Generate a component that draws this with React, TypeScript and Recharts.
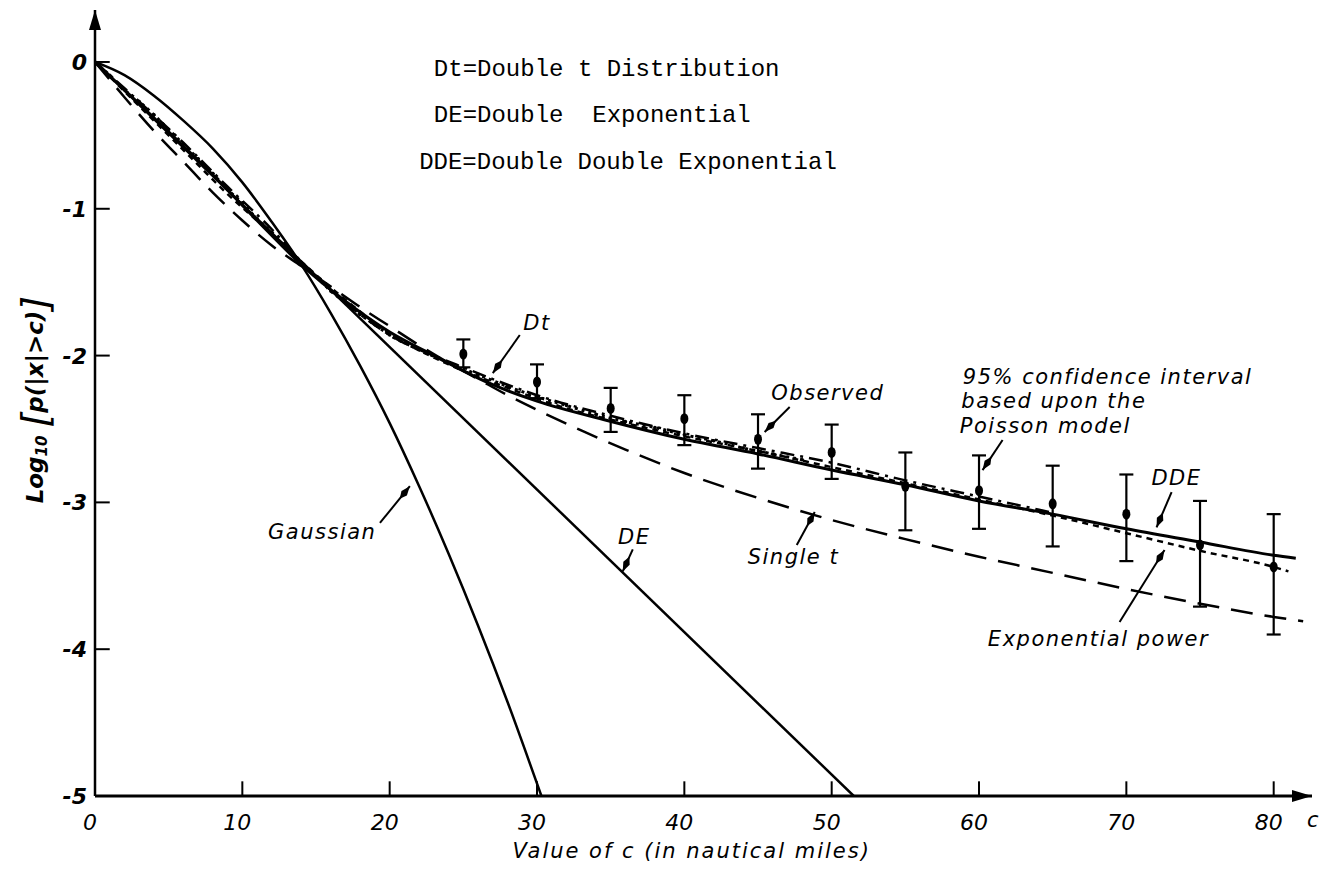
import {
  ComposedChart,
  ErrorBar,
  Line,
  ReferenceDot,
  ReferenceLine,
  Scatter,
  XAxis,
  YAxis,
} from "recharts";

// axis ranges (the axes run a bit past the last tick, up to the arrow heads)
const X_MAX = 82.6;
const Y_MIN = -5;
const Y_MAX = 0.354;
const xTicks = [0, 10, 20, 30, 40, 50, 60, 70, 80];
const yTicks = [0, -1, -2, -3, -4, -5];

// fitted curves: c (nautical miles) and log10 P(|x|>c)
const gaussianC = [0, 2, 4, 6, 8, 10, 12, 14, 16, 18, 20, 22, 24, 26, 28, 30.3];
const gaussianY = [0, -0.09, -0.23, -0.4, -0.59, -0.82, -1.09, -1.38, -1.71, -2.07, -2.46, -2.89, -3.35, -3.84, -4.36, -5];

const deC = [0, 51.5];
const deY = [0, -5];

const singleTC = [0, 2, 4, 6, 8, 10, 12, 14, 16, 18, 20, 22, 24, 26, 28, 30, 33, 36, 40, 45, 50, 55, 60, 65, 70, 75, 80, 82];
const singleTY = [0, -0.24, -0.47, -0.68, -0.89, -1.08, -1.25, -1.39, -1.53, -1.67, -1.8, -1.93, -2.05, -2.16, -2.27, -2.37, -2.51, -2.64, -2.8, -2.97, -3.12, -3.25, -3.37, -3.48, -3.59, -3.69, -3.78, -3.81];

const dtC = [0, 3, 6, 9, 12, 14, 17, 20, 24.5, 27, 30, 35, 40, 45, 50, 55, 60, 65];
const dtY = [0, -0.27, -0.55, -0.85, -1.14, -1.36, -1.64, -1.86, -2.06, -2.16, -2.27, -2.41, -2.53, -2.63, -2.73, -2.85, -2.96, -3.07];

const ddeC = [0, 4, 8, 11, 14, 17, 20, 23, 26.8, 30, 34.7, 40, 45, 50, 55, 60, 65, 70, 75, 80, 81.5];
const ddeY = [0, -0.38, -0.77, -1.08, -1.38, -1.63, -1.84, -2.0, -2.19, -2.31, -2.44, -2.57, -2.67, -2.78, -2.88, -2.99, -3.08, -3.18, -3.27, -3.36, -3.38];

const expPowerC = [0, 3, 6, 9, 12, 14, 17, 20, 24, 28, 32, 36, 40, 45, 50, 55, 60, 65, 70, 75, 80, 81];
const expPowerY = [0, -0.3, -0.6, -0.9, -1.17, -1.36, -1.62, -1.85, -2.06, -2.22, -2.36, -2.46, -2.55, -2.65, -2.76, -2.87, -2.98, -3.09, -3.21, -3.33, -3.44, -3.47];

// observed tail frequencies (the dotted wavy trace)
const observedC = [0, 1, 2, 3, 4, 5, 6, 7, 8, 9, 10, 11, 12, 13, 14, 15, 16, 17, 18, 19, 20, 22, 24, 26, 28, 30, 32, 34, 36, 38, 40, 42, 44, 46, 48];
const observedY = [0, -0.09, -0.19, -0.27, -0.36, -0.46, -0.56, -0.66, -0.76, -0.87, -0.96, -1.07, -1.16, -1.27, -1.37, -1.46, -1.56, -1.64, -1.72, -1.79, -1.86, -1.96, -2.05, -2.13, -2.21, -2.28, -2.34, -2.4, -2.45, -2.49, -2.54, -2.58, -2.63, -2.67, -2.71];

// observed points with 95% Poisson confidence intervals
const ciC = [25, 30, 35, 40, 45, 50, 55, 60, 65, 70, 75, 80];
const ciMid = [-1.99, -2.18, -2.36, -2.43, -2.57, -2.66, -2.89, -2.92, -3.01, -3.08, -3.29, -3.44];
const ciTop = [-1.89, -2.06, -2.22, -2.27, -2.4, -2.47, -2.66, -2.68, -2.75, -2.81, -2.99, -3.08];
const ciBottom = [-2.08, -2.29, -2.52, -2.61, -2.77, -2.84, -3.19, -3.18, -3.3, -3.4, -3.71, -3.9];

const pts = (cs: number[], ys: number[]) => cs.map((c, i) => ({ c, y: ys[i] }));
const ciData = ciC.map((c, i) => ({
  c,
  y: ciMid[i],
  err: [ciMid[i] - ciBottom[i], ciTop[i] - ciMid[i]],
}));

const LABEL_FONT = "'DejaVu Sans', sans-serif";
const MONO_FONT = "'Liberation Mono', 'DejaVu Sans Mono', monospace";

// annotation layout (data coordinates)
const notes = [
  { c: 30.0, y: -1.78, text: "Dt", anchor: "middle" },
  { c: 45.9, y: -2.255, text: "Observed", anchor: "start" },
  { c: 58.9, y: -2.146, text: "95% confidence interval", anchor: "start" },
  { c: 58.8, y: -2.309, text: "based upon the", anchor: "start" },
  { c: 58.7, y: -2.48, text: "Poisson model", anchor: "start" },
  { c: 71.7, y: -2.834, text: "DDE", anchor: "start" },
  { c: 60.6, y: -3.93, text: "Exponential power", anchor: "start" },
  { c: 44.3, y: -3.372, text: "Single t", anchor: "start" },
  { c: 35.5, y: -3.236, text: "DE", anchor: "start" },
  { c: 19.1, y: -3.2, text: "Gaussian", anchor: "end" },
];

const pointers = [
  { from: [28.83, -1.86], to: [27.0, -2.12] },
  { from: [47.15, -2.35], to: [45.45, -2.52] },
  { from: [61.6, -2.575], to: [60.24, -2.78] },
  { from: [73.07, -2.93], to: [72.05, -3.17] },
  { from: [69.54, -3.815], to: [72.59, -3.324] },
  { from: [47.63, -3.29], to: [48.85, -3.065] },
  { from: [36.5, -3.32], to: [35.82, -3.47] },
  { from: [19.34, -3.14], to: [21.37, -2.89] },
];

const legendLines = [
  { c: 23.0, y: -0.054, text: "Dt=Double t Distribution" },
  { c: 23.0, y: -0.368, text: "DE=Double  Exponential" },
  { c: 22.0, y: -0.688, text: "DDE=Double Double Exponential" },
];

function Pointer(props: any) {
  const { x1, y1, x2, y2 } = props;
  const dx = x2 - x1;
  const dy = y2 - y1;
  const len = Math.sqrt(dx * dx + dy * dy) || 1;
  const ux = dx / len;
  const uy = dy / len;
  const bx = x2 - ux * 16;
  const by = y2 - uy * 16;
  const mx = x2 - ux * 9;
  const my = y2 - uy * 9;
  return (
    <g>
      <line x1={x1} y1={y1} x2={x2} y2={y2} stroke="#000" strokeWidth={2} />
      <polygon
        points={`${x2},${y2} ${mx - uy * 3.5},${my + ux * 3.5} ${bx},${by} ${mx + uy * 3.5},${my - ux * 3.5}`}
        fill="#000"
      />
    </g>
  );
}

const italic = {
  fontFamily: LABEL_FONT,
  fontStyle: "italic" as const,
  fill: "#000",
};

export default function App() {
  return (
    <div style={{ position: "absolute", left: 0, top: 0, background: "#fff" }}>
      <ComposedChart
        width={1327}
        height={869}
        margin={{ top: 10, right: 15, bottom: 73, left: 95 }}
      >
        <XAxis type="number" dataKey="c" domain={[0, X_MAX]} allowDataOverflow hide />
        <YAxis type="number" domain={[Y_MIN, Y_MAX]} allowDataOverflow hide />

        {/* axes with arrow heads */}
        <ReferenceLine
          segment={[{ x: 0, y: Y_MIN }, { x: X_MAX, y: Y_MIN }]}
          stroke="#000"
          strokeWidth={3}
          ifOverflow="visible"
        />
        <ReferenceLine
          segment={[{ x: 0, y: Y_MIN }, { x: 0, y: Y_MAX }]}
          stroke="#000"
          strokeWidth={2.5}
          ifOverflow="visible"
        />
        <ReferenceDot
          x={X_MAX}
          y={Y_MIN}
          ifOverflow="visible"
          shape={(p: any) => (
            <g>
              <polygon
                points={`${p.cx},${p.cy} ${p.cx - 20},${p.cy - 6} ${p.cx - 20},${p.cy + 6}`}
                fill="#000"
              />
              <text x={p.cx - 5} y={p.cy + 31} fontSize={21} {...italic}>
                c
              </text>
            </g>
          )}
        />
        <ReferenceDot
          x={0}
          y={Y_MAX}
          ifOverflow="visible"
          shape={(p: any) => (
            <polygon
              points={`${p.cx},${p.cy} ${p.cx - 6},${p.cy + 20} ${p.cx + 6},${p.cy + 20}`}
              fill="#000"
            />
          )}
        />

        {/* inward tick marks and tick labels */}
        {xTicks.slice(1).map((t) => (
          <ReferenceLine
            key={`xt${t}`}
            segment={[{ x: t, y: Y_MIN }, { x: t, y: Y_MIN + 0.1 }]}
            stroke="#000"
            strokeWidth={2}
          />
        ))}
        {yTicks.slice(0, -1).map((t) => (
          <ReferenceLine
            key={`yt${t}`}
            segment={[{ x: 0, y: t }, { x: 1, y: t }]}
            stroke="#000"
            strokeWidth={2}
          />
        ))}
        {xTicks.map((t) => (
          <ReferenceDot
            key={`xl${t}`}
            x={t}
            y={Y_MIN}
            ifOverflow="visible"
            shape={(p: any) => (
              <text x={p.cx - 5} y={p.cy + 34} textAnchor="middle" fontSize={22} {...italic}>
                {t}
              </text>
            )}
          />
        ))}
        {yTicks.map((t) => (
          <ReferenceDot
            key={`yl${t}`}
            x={0}
            y={t}
            ifOverflow="visible"
            shape={(p: any) => (
              <text
                x={p.cx - 8}
                y={p.cy + 8}
                textAnchor="end"
                fontSize={22}
                fontWeight="bold"
                {...italic}
              >
                {t === 0 ? "0" : `-${Math.abs(t)}`}
              </text>
            )}
          />
        ))}

        {/* axis titles */}
        <ReferenceDot
          x={40.5}
          y={Y_MIN}
          ifOverflow="visible"
          shape={(p: any) => (
            <text
              x={p.cx}
              y={p.cy + 62}
              textAnchor="middle"
              fontSize={21}
              letterSpacing={2}
              {...italic}
            >
              Value of c (in nautical miles)
            </text>
          )}
        />
        <ReferenceDot
          x={0}
          y={-2.3}
          ifOverflow="visible"
          shape={(p: any) => (
            <text
              transform={`translate(${p.cx - 60},${p.cy}) rotate(-90)`}
              textAnchor="middle"
              dominantBaseline="central"
              fontSize={23}
              fontWeight="bold"
              {...italic}
            >
              <tspan>Log</tspan>
              <tspan fontSize={15} dy={7}>10</tspan>
              <tspan dy={-7}> </tspan>
              <tspan fontSize={38} fontWeight="normal">[</tspan>
              <tspan>p(|x|&gt;c)</tspan>
              <tspan fontSize={38} fontWeight="normal">]</tspan>
            </text>
          )}
        />

        <Line data={pts(gaussianC, gaussianY)} dataKey="y" type="monotone" dot={false} stroke="#000" strokeWidth={2.5} isAnimationActive={false} />
        <Line data={pts(deC, deY)} dataKey="y" type="linear" dot={false} stroke="#000" strokeWidth={2.5} isAnimationActive={false} />
        <Line data={pts(singleTC, singleTY)} dataKey="y" type="monotone" dot={false} stroke="#000" strokeWidth={2.5} strokeDasharray="22 12" isAnimationActive={false} />
        <Line data={pts(dtC, dtY)} dataKey="y" type="monotone" dot={false} stroke="#000" strokeWidth={2.5} strokeDasharray="14 6 3 6" isAnimationActive={false} />
        <Line data={pts(expPowerC, expPowerY)} dataKey="y" type="monotone" dot={false} stroke="#000" strokeWidth={2.5} strokeDasharray="6 5" isAnimationActive={false} />
        <Line data={pts(ddeC, ddeY)} dataKey="y" type="monotone" dot={false} stroke="#000" strokeWidth={3} isAnimationActive={false} />
        <Line
          data={pts(observedC, observedY)}
          dataKey="y"
          type="monotone"
          stroke="#000"
          strokeWidth={3}
          strokeDasharray="3 4"
          dot={{ r: 1.8, fill: "#000", stroke: "none" }}
          isAnimationActive={false}
        />

        <Scatter
          data={ciData}
          dataKey="y"
          fill="#000"
          isAnimationActive={false}
          shape={(p: any) => <ellipse cx={p.cx} cy={p.cy} rx={4} ry={5.5} fill="#000" />}
        >
          <ErrorBar dataKey="err" direction="y" width={7} stroke="#000" strokeWidth={2.2} />
        </Scatter>

        {pointers.map((a, i) => (
          <ReferenceLine
            key={`ptr${i}`}
            segment={[{ x: a.from[0], y: a.from[1] }, { x: a.to[0], y: a.to[1] }]}
            shape={Pointer}
          />
        ))}

        {notes.map((n) => (
          <ReferenceDot
            key={n.text}
            x={n.c}
            y={n.y}
            shape={(p: any) => (
              <text
                x={p.cx}
                y={p.cy}
                textAnchor={n.anchor as any}
                dominantBaseline="central"
                fontSize={21}
                letterSpacing={1.5}
                {...italic}
              >
                {n.text}
              </text>
            )}
          />
        ))}

        {legendLines.map((l) => (
          <ReferenceDot
            key={l.text}
            x={l.c}
            y={l.y}
            shape={(p: any) => (
              <text
                x={p.cx}
                y={p.cy}
                dominantBaseline="central"
                fontFamily={MONO_FONT}
                fontSize={24}
                fill="#000"
                style={{ whiteSpace: "pre" }}
              >
                {l.text}
              </text>
            )}
          />
        ))}
      </ComposedChart>
    </div>
  );
}
